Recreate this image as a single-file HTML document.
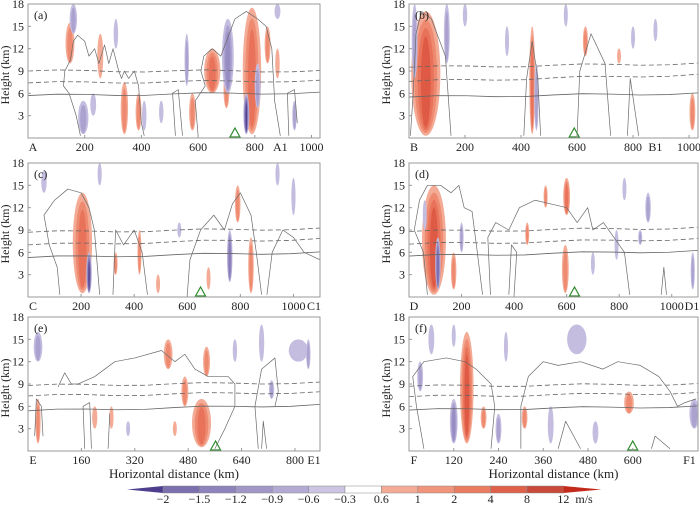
<!DOCTYPE html>
<html><head><meta charset="utf-8"><style>
html,body{margin:0;padding:0;background:#fff;}
svg{display:block;font-family:"Liberation Serif",serif;}
</style></head><body>
<svg id="fig" width="700" height="506" viewBox="0 0 700 506" xmlns="http://www.w3.org/2000/svg"></svg>
<script>
// ---------- data ----------
const panelIds=['a','b','c','d','e','f'];
const panelDomains=[[0,1030],[0,1032],[0,1100],[0,1100],[0,875],[0,775]];
const panelTicks=[[200,400,600,800,1000],[200,400,600,800,1000],[200,400,600,800,1000],[200,400,600,800,1000],[160,320,480,640,800],[120,240,360,480,600]];
const panelStart=['A','B','C','D','E','F'];
const panelEnd=[['A1',890],['B1',880],['C1',1085],['D1',1085],['E1',862],['F1',752]];
const triKm=[730,590,650,630,562,600];
const yTicks=[3,6,9,12,15,18];
const dashUpper=[[9.0,9.0],[9.5,10],[8.7,9.2],[8.8,9.3],[8.8,9.2],[8.7,9.0]];
const dashLower=[[7.4,7.7],[7.6,8.5],[7.0,7.8],[7.1,7.8],[7.4,7.9],[7.3,7.8]];
const solidLine=[[5.7,6.1],[5.5,6.0],[5.3,6.0],[5.5,6.2],[5.4,6.2],[5.5,6.0]];
// blobs: [km, zBottom, zTop, halfWidthKm, level(+red/-purple)]
const blobsA=[[148,10,15.5,12,2],[255,8,14,8,1],[340,0.5,7.5,10,2],[390,1,6,8,2],[580,1,6,9,2],[650,6,12,22,3],[700,4,9,8,2],[790,0.5,17.5,25,3],[845,10,15,8,2],[880,8,12,6,1],
 [160,14,18,10,-2],[195,0.5,5,14,-2],[230,3,6,8,-1],[310,12,16,6,-1],[410,1,5,6,-1],[470,2,5,6,-1],[560,7,14,6,-2],[705,6,16,16,-3],[770,0.5,6,8,-6],[810,4,10,8,-2],[940,1,5,6,-2],[880,16,18,8,-1]];
const blobsB=[[60,0.3,17,40,4],[20,8,18,8,-2],[135,10,18,8,-2],[200,15,18,6,-1],[350,11,15,5,-1],[440,0.5,15,8,3],[455,1,10,6,-2],[560,15,18,5,-1],[630,11,15,7,2],[750,10,12,5,1],[800,12,15,5,-1],[880,13,16,5,-1],[1012,1,6,8,2]];
const blobsC=[[205,0.5,14,28,3],[230,0.5,6,8,-6],[60,14,17,8,-1],[270,15,18,6,-1],[330,3,6,5,2],[420,3,9,5,2],[490,0.5,3,5,1],[570,8,10,5,-1],[680,1,4,4,1],[760,2,9,8,-4],[790,10,15,8,2],[840,0.5,8,8,2],[940,15,18,6,-1],[1000,11,16,6,-1]];
const blobsD=[[95,0.3,15,35,4],[110,1,8,8,-5],[60,9,13,5,-1],[170,1,6,8,2],[200,6,10,6,-2],[450,7,10,5,2],[520,12,15,6,2],[600,11,16,10,3],[595,0.5,7,10,2],[700,3,6,4,-1],[790,5,9,4,-1],[880,7,9,5,-2],[910,10,14,8,-2],[1080,1,6,6,-2],[820,13,16,4,-1]];
const blobsE=[[30,12,16,10,-2],[30,1,7,6,2],[200,3,6,6,1],[250,3,6,5,1],[420,11,15,10,2],[470,6,10,8,2],[520,0.5,7,22,3],[535,10,14,8,2],[620,12,15,5,-1],[700,12,17,6,-1],[730,7,9.5,6,-2],[810,12,15,22,-1],[840,11,15,5,-2],[300,2,4,4,-1],[440,2,4,4,1]];
const blobsF=[[155,1,16,14,4],[120,1,7,8,-3],[30,8,12,6,-2],[60,13,17,6,-1],[200,3,6,6,2],[240,1,5,6,-2],[310,3,6,6,2],[380,1,6,6,-1],[450,13,17,20,-1],[500,1,4,6,-1],[590,5,8,10,2],[765,3,7,10,-2],[260,12,16,4,-1],[120,14,17,4,-1]];
const panelBlobs=[blobsA,blobsB,blobsC,blobsD,blobsE,blobsF];
const outlinesA=[[[185,0.3],[170,3],[145,6],[125,7],[130,9],[150,10.5],[160,13],[175,13.8],[200,13],[215,11],[235,12],[250,10],[270,12.5],[285,10],[300,12],[320,9],[330,8],[340,9],[355,8],[375,9],[390,7],[400,2],[410,0.3]],
 [[600,0.3],[590,5],[625,7],[610,9],[620,11],[650,12],[680,11],[700,13],[730,16],[770,17],[810,16],[840,15],[860,12],[870,5],[890,0.3]],
 [[520,0.3],[510,6],[530,6.5],[545,0.3]],[[920,0.3],[915,6],[940,6.5],[950,2]]];
const outlinesB=[[[5,0.3],[15,6],[25,14],[45,17],[80,16],[110,13],[130,11],[150,0.3]],[[410,0.3],[420,8],[440,13],[460,8],[470,0.3]],[[600,0.3],[610,9],[650,14],[700,10],[720,0.3]],[[780,0.3],[790,8],[820,0.3]]];
const outlinesC=[[[120,0.3],[110,4],[80,7],[60,11],[100,13],[150,14.5],[200,14],[230,12],[250,9],[270,0.3]],[[320,0.3],[330,9],[360,7],[400,9],[430,6],[450,0.3]],[[600,0.3],[610,5],[650,9],[700,11],[740,9],[770,12.5],[800,14],[840,11],[860,6],[880,0.3]],[[900,0.3],[920,6],[960,9],[1000,8],[1040,6],[1100,5]]];
const outlinesD=[[[70,0.3],[55,6],[20,9],[40,13],[70,15],[120,15],[160,14],[190,15],[210,12],[240,11.5],[260,6],[280,0.3]],[[310,0.3],[300,8],[330,10],[380,9],[420,12],[480,13],[540,12.5],[600,12],[640,10],[680,12],[700,9],[740,10],[780,8],[820,6],[840,0.3]],[[380,0.3],[390,7],[410,6],[400,0.3]],[[960,0.3],[970,4],[980,0.3]]];
const outlinesE=[[[90,8.6],[110,10.5],[130,9],[150,9],[200,10],[260,12],[320,12.5],[400,13.5],[440,12],[470,13],[500,11],[540,10],[600,10],[620,9],[620,6],[590,3],[560,0.3]],[[170,0.3],[165,6],[185,6.5],[190,0.3]],[[240,0.3],[245,5],[240,0.3]],[[20,2],[25,7],[40,6],[45,2]],[[690,0.3],[680,6],[700,11],[740,12.5],[750,8],[740,6]],[[700,0.3],[705,4],[715,0.3]]];
const outlinesF=[[[40,0.3],[20,6],[10,10],[40,12],[100,12.5],[150,12],[180,11],[220,9],[230,6],[220,0.3]],[[300,0.3],[300,6],[320,10],[360,12],[400,11.5],[460,12],[520,11],[560,12],[620,11.5],[670,10],[700,8],[720,6],[740,6.5],[770,7]],[[400,0.3],[420,4],[460,0.3]],[[650,0.3],[660,2],[700,0.3]]];
const panelOutlines=[outlinesA,outlinesB,outlinesC,outlinesD,outlinesE,outlinesF];
const cbLabels=['\u22122','\u22121.5','\u22121.2','\u22120.9','\u22120.6','\u22120.3','0.6','1','2','4','8','12'];
const cbColors=['#7d70ae','#8e83bb','#a097c7','#b3aad4','#cbc5e3','#ffffff','#f4ab96','#f0957c','#ea7c61','#e0614a','#c9493a'];
const negColors=['#c4bde0','#aca2d0','#988dc3','#877bb8','#7a6cae','#4e3f8e'];
const posColors=['#f4ab96','#ee8a70','#e8735a','#df5a44','#c9493a','#b5301f'];

// ---------- drawing ----------
const NS='http://www.w3.org/2000/svg';
const svg=document.getElementById('fig');
function mk(tag,attrs,parent){const e=document.createElementNS(NS,tag);for(const k in attrs)e.setAttribute(k,attrs[k]);(parent||svg).appendChild(e);return e;}
const cols=[[28,320],[409,698]];
const rows=[[4,138],[163,297],[317,451]];
panelIds.forEach((id,i)=>{
  const [x0,x1]=cols[i%2];const [y0,y1]=rows[Math.floor(i/2)];
  const [d0,d1]=panelDomains[i];
  const X=km=>x0+(km-d0)/(d1-d0)*(x1-x0);
  const Y=z=>y1-z/18*(y1-y0);
  const g=mk('g',{});
  
  
  const cp=mk('clipPath',{id:'cp'+id},g);mk('rect',{x:x0,y:y0,width:x1-x0,height:y1-y0},cp);
  const pg=mk('g',{'clip-path':'url(#cp'+id+')'},g);
  panelBlobs[i].forEach(b=>{
    const [km,zb,zt,w,lv]=b;const cx=X(km),cy=(Y(zb)+Y(zt))/2,ry=(Y(zb)-Y(zt))/2;
    const rx=Math.max(2,1.3*w/(d1-d0)*(x1-x0));
    const pal=lv>0?posColors:negColors;const n=Math.abs(lv);
    for(let k=0;k<n;k++){
      const f=1-k/(n+0.5);
      const e=mk('ellipse',{cx:cx,cy:cy+ry*(1-f)*0.2,rx:rx*f,ry:ry*(0.6+0.4*f),fill:pal[k]},pg);
      
      
    }
  });
  panelOutlines[i].forEach(o=>{
    const p=mk('polyline',{points:o.map(q=>X(q[0])+','+Y(q[1])).join(' '),fill:'none',stroke:'#6a6a6a','stroke-width':0.7,'stroke-linejoin':'round'},pg);
    
    
  });
  [[dashUpper[i],'5,3','dashed-isotherm-upper'],[dashLower[i],'5,3','dashed-isotherm-lower'],[solidLine[i],'','melting-level-line']].forEach(L=>{
    const [zz,da,nm]=L;const pts=[];
    for(let t=0;t<=10;t++){const km=d0+(d1-d0)*t/10;pts.push(X(km)+','+Y(zz[0]+(zz[1]-zz[0])*t/10+0.15*Math.sin(t*1.3)));}
    const p=mk('polyline',{points:pts.join(' '),fill:'none',stroke:'#666','stroke-width':0.8,'stroke-dasharray':da},pg);
    
    
  });
  const tx=X(triKm[i]);
  const tri=mk('polygon',{points:`${tx-5},${y1-1} ${tx+5},${y1-1} ${tx},${y1-10}`,fill:'none',stroke:'#2e8b2e','stroke-width':1.2},g);
  
  
  const box=mk('rect',{x:x0,y:y0,width:x1-x0,height:y1-y0,fill:'none',stroke:'#999','stroke-width':1},g);
  
  
  const lab=mk('text',{x:x0+6,y:y0+15,'font-size':12,fill:'#222'},g);lab.textContent='('+id+')';
  
  
  yTicks.forEach(t=>{
    mk('line',{x1:x0,x2:x0+3,y1:Y(t),y2:Y(t),stroke:'#999'},g);
    const tt=mk('text',{x:x0-4,y:Y(t)+4,'font-size':12,'text-anchor':'end',fill:'#222'},g);tt.textContent=t;
    
    
  });
  const yl=mk('text',{x:0,y:0,'font-size':12,'text-anchor':'middle',fill:'#222',transform:`translate(${x0-19},${(y0+y1)/2+4}) rotate(-90)`},g);yl.textContent='Height (km)';
  
  
  const st=mk('text',{x:x0+5,y:y1+13,'font-size':12,'text-anchor':'middle',fill:'#222'},g);st.textContent=panelStart[i];
  
  
  panelTicks[i].forEach(t=>{
    mk('line',{x1:X(t),x2:X(t),y1:y1,y2:y1-3,stroke:'#999'},g);
    const tt=mk('text',{x:X(t),y:y1+13,'font-size':12,'text-anchor':'middle',fill:'#222'},g);tt.textContent=t;
    
    
  });
  const en=mk('text',{x:Math.min(X(panelEnd[i][1]),x1-6),y:y1+13,'font-size':12,'text-anchor':'middle',fill:'#222'},g);en.textContent=panelEnd[i][0];
  
  
  if(i>=4){
    const xt=mk('text',{x:(x0+x1)/2,y:y1+27,'font-size':13,'text-anchor':'middle',fill:'#222'},g);xt.textContent='Horizontal distance (km)';
    
    
  }
});
const cb=mk('g',{});


const cbX0=163,cbW=36.4,cbY=486,cbH=7;
mk('polygon',{points:`127,${cbY+cbH/2} ${cbX0},${cbY} ${cbX0},${cbY+cbH}`,fill:'#4e3f8e'},cb);
cbColors.forEach((c,k)=>{
  const r=mk('rect',{x:cbX0+k*cbW,y:cbY,width:cbW,height:cbH,fill:c,stroke:'#888','stroke-width':0.5},cb);
  
  
});
const cbEnd=cbX0+cbColors.length*cbW;
mk('polygon',{points:`${cbEnd},${cbY} ${cbEnd},${cbY+cbH} ${cbEnd+38},${cbY+cbH/2}`,fill:'#c42a1c'},cb);
cbLabels.forEach((l,k)=>{
  const t=mk('text',{x:cbX0+k*cbW,y:503,'font-size':12,'text-anchor':'middle',fill:'#222'},cb);t.textContent=l;
  
  
});
const un=mk('text',{x:cbEnd+12,y:503,'font-size':12,fill:'#222'},cb);un.textContent='m/s';


</script>
</body></html>
